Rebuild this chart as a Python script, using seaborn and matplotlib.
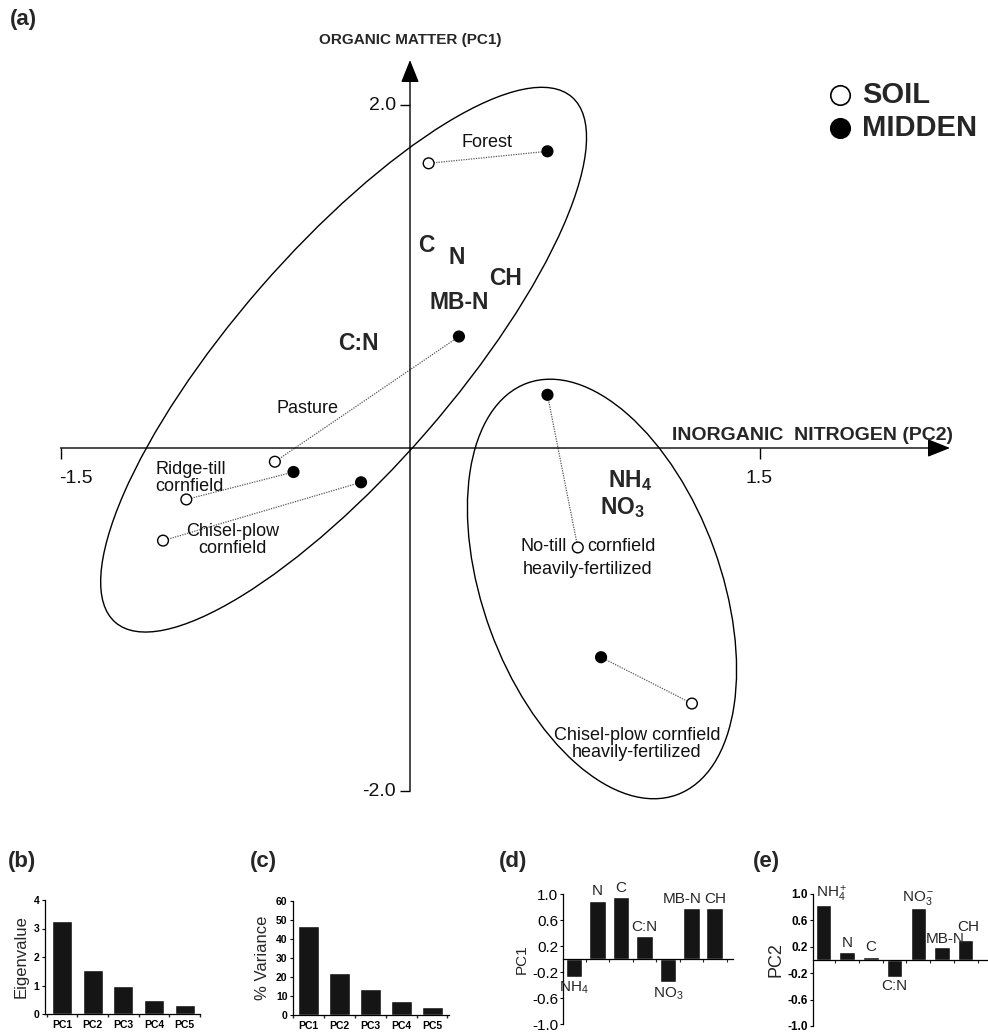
import matplotlib
matplotlib.use("Agg")
import numpy as np
import pandas as pd
import seaborn as sns
import matplotlib.pyplot as plt
from matplotlib.patches import Ellipse
from matplotlib.transforms import Affine2D

sns.set_theme(style="white")
plt.rcParams["font.family"] = ["Liberation Sans", "DejaVu Sans"]
plt.rcParams["mathtext.fontset"] = "custom"
plt.rcParams["mathtext.rm"] = "Liberation Sans"
plt.rcParams["mathtext.bf"] = "Liberation Sans:bold"
plt.rcParams["mathtext.it"] = "Liberation Sans:italic"

# ---------------- data ----------------
sites = ["Forest", "Pasture", "Ridge-till cornfield", "Chisel-plow cornfield",
         "No-till cornfield heavily-fertilized", "Chisel-plow cornfield heavily-fertilized"]
soil_pc2 = [0.08, -0.58, -0.96, -1.06, 0.72, 1.21]
soil_pc1 = [1.66, -0.08, -0.30, -0.54, -0.58, -1.49]
midden_pc2 = [0.59, 0.21, -0.50, -0.21, 0.59, 0.82]
midden_pc1 = [1.73, 0.65, -0.14, -0.20, 0.31, -1.22]

variables = ["C", "N", "CH", "MB-N", "C:N", r"NH$_\mathbf{4}$", r"NO$_\mathbf{3}$"]
var_pc2 = [0.07, 0.20, 0.41, 0.21, -0.22, 0.944, 0.91]
var_pc1 = [1.18, 1.11, 0.99, 0.85, 0.61, -0.19, -0.345]

components = ["PC1", "PC2", "PC3", "PC4", "PC5"]
eigenvalues = [3.26, 1.54, 0.98, 0.50, 0.30]
pct_variance = [46.8, 21.9, 13.9, 7.2, 4.0]

loading_vars = ["NH4", "N", "C", "C:N", "NO3", "MB-N", "CH"]
pc1_loadings = [-0.27, 0.90, 0.95, 0.36, -0.36, 0.79, 0.79]
pc2_loadings = [0.84, 0.12, 0.04, -0.25, 0.79, 0.19, 0.31]

# ---------------- figure ----------------
W, H = 988, 1032
fig = plt.figure(figsize=(W / 100, H / 100), dpi=100)
fig.patch.set_facecolor("white")


def box(l, t, r, b):
    return [l / W, 1 - b / H, (r - l) / W, (b - t) / H]


# ---------------- panel (a) ----------------
X0, Y0, SX, SY = 410, 448, 233.0, 171.5  # origin pixel & px per unit
ax = fig.add_axes(box(40, 50, 960, 840))
ax.set_xlim((40 - X0) / SX, (960 - X0) / SX)
ax.set_ylim((Y0 - 840) / SY, (Y0 - 50) / SY)
ax.axis("off")

# axes with arrows
arrow = dict(arrowstyle="-|>,head_length=0.7,head_width=0.28", color="black",
             lw=1.0, shrinkA=0, shrinkB=0, mutation_scale=20)
ax.annotate("", xy=((950 - X0) / SX, 0), xytext=(-1.5, 0), arrowprops=arrow)
ax.annotate("", xy=(0, (Y0 - 60) / SY), xytext=(0, -2.0), arrowprops=arrow)
ax.plot([-1.5, 1.5], [0, 0], ls="none", marker=3, ms=8, mew=1, color="black")
ax.plot([0, 0], [-2.0, 2.0], ls="none", marker=0, ms=7, mew=1, color="black")
tick_font = dict(fontsize=14, color="#111")
ax.annotate("-1.5", xy=(-1.5, 0), xytext=(11, -22), textcoords="offset points",
            ha="center", va="center", **tick_font)
ax.annotate("1.5", xy=(1.5, 0), xytext=(0, -22), textcoords="offset points",
            ha="center", va="center", **tick_font)
ax.annotate("2.0", xy=(0, 2.0), xytext=(-10, 0), textcoords="offset points",
            ha="right", va="center", **tick_font)
ax.annotate("-2.0", xy=(0, -2.0), xytext=(-10, 0), textcoords="offset points",
            ha="right", va="center", **tick_font)

fig.text(X0 / W, 1 - 40 / H, "ORGANIC MATTER (PC1)", ha="center", va="center",
         fontsize=11, fontweight="bold")
fig.text(953 / W, 1 - 435 / H, "INORGANIC  NITROGEN (PC2)", ha="right", va="center",
         fontsize=14, fontweight="bold")
fig.text(10 / W, 1 - 20 / H, "(a)", ha="left", va="center", fontsize=16, fontweight="bold")

# ellipses (drawn in isotropic units, mapped to data)
r = SY / SX
iso = Affine2D().scale(1, 1 / r) + ax.transData
ax.add_patch(Ellipse((-0.285, 0.515 * r), 2 * 348 / SX, 2 * 110 / SX, angle=49,
                     transform=iso, fill=False, ec="black", lw=1.0))
ax.add_patch(Ellipse((0.824, -0.822 * r), 2 * 219 / SX, 2 * 119 / SX, angle=110,
                     transform=iso, fill=False, ec="black", lw=1.0))

df_pts = pd.DataFrame({
    "site": sites * 2,
    "sample": ["SOIL"] * len(sites) + ["MIDDEN"] * len(sites),
    "pc2": soil_pc2 + midden_pc2,
    "pc1": soil_pc1 + midden_pc1,
})
sns.lineplot(data=df_pts, x="pc2", y="pc1", units="site", estimator=None, sort=False,
             color="#555", lw=0.9, linestyle=(0, (1, 1)), ax=ax, legend=False)
sns.scatterplot(data=df_pts, x="pc2", y="pc1", hue="sample",
                palette={"SOIL": "white", "MIDDEN": "black"}, edgecolor="black",
                linewidth=1.0, s=60, legend=False, ax=ax, zorder=3)

for name, px, py in zip(variables, var_pc2, var_pc1):
    ax.text(px, py, name, ha="center", va="center", fontsize=16.5, fontweight="bold")

site_font = dict(fontsize=13, color="#111")
ax.text(0.33, 1.78, "Forest", ha="center", va="center", **site_font)
ax.text(-0.44, 0.23, "Pasture", ha="center", va="center", **site_font)
ax.text(-1.094, -0.175, "Ridge-till\ncornfield", ha="left", va="center",
        linespacing=1.0, **site_font)
ax.text(-0.76, -0.536, "Chisel-plow\ncornfield", ha="center", va="center",
        linespacing=1.0, **site_font)
ax.text(0.674, -0.577, "No-till", ha="right", va="center", **site_font)
ax.text(0.76, -0.577, "cornfield", ha="left", va="center", **site_font)
ax.text(0.764, -0.706, "heavily-fertilized", ha="center", va="center", **site_font)
ax.text(0.974, -1.726, "Chisel-plow cornfield\nheavily-fertilized", ha="center",
        va="center", linespacing=1.0, **site_font)

# legend
fig.add_artist(plt.Line2D([840 / W], [1 - 95 / H], marker="o", ms=14, mfc="white",
                          mec="black", mew=1.2, ls="none", transform=fig.transFigure))
fig.add_artist(plt.Line2D([840 / W], [1 - 128 / H], marker="o", ms=14, mfc="black",
                          mec="black", mew=1.2, ls="none", transform=fig.transFigure))
fig.text(862 / W, 1 - 95 / H, "SOIL", ha="left", va="center", fontsize=21, fontweight="bold")
fig.text(862 / W, 1 - 128 / H, "MIDDEN", ha="left", va="center", fontsize=21,
         fontweight="bold")

# ---------------- panels (b) & (c) ----------------
BAR = "#151515"


def style_small(a, ylabel, yticks, ylim, xlim):
    a.set_xlim(*xlim)
    a.set_ylim(*ylim)
    a.set_yticks(yticks)
    a.set_xlabel("")
    a.set_ylabel(ylabel, fontsize=12, labelpad=4)
    for s in ["top", "right"]:
        a.spines[s].set_visible(False)
    for s in ["left", "bottom"]:
        a.spines[s].set_color("black")
        a.spines[s].set_linewidth(0.9)
    a.tick_params(axis="both", labelsize=7.5, length=2, width=0.8, pad=2,
                  colors="black", left=True, bottom=False)
    for lab in a.get_xticklabels() + a.get_yticklabels():
        lab.set_fontweight("bold")
    a.set_xticks(np.arange(-0.5, 5, 1), minor=True)
    a.tick_params(axis="x", which="minor", length=2, bottom=True)


axb = fig.add_axes(box(45, 900, 200, 1014))
sns.barplot(x=components, y=eigenvalues, color=BAR, saturation=1, width=0.65, ax=axb)
style_small(axb, "Eigenvalue", [0, 1, 2, 3, 4], (0, 4), (-0.55, 4.45))
fig.text(8 / W, 1 - 862 / H, "(b)", ha="left", va="center", fontsize=16, fontweight="bold")

axc = fig.add_axes(box(293, 901, 449, 1015))
sns.barplot(x=components, y=pct_variance, color=BAR, saturation=1, width=0.68, ax=axc)
style_small(axc, "% Variance", [0, 10, 20, 30, 40, 50, 60], (0, 60), (-0.48, 4.55))
fig.text(250 / W, 1 - 862 / H, "(c)", ha="left", va="center", fontsize=16, fontweight="bold")

# ---------------- panels (d) & (e) ----------------
yt = [-1.0, -0.6, -0.2, 0.2, 0.6, 1.0]


def style_load(a, ylabel, tick_size, tick_bold, ylabel_size, xlim):
    a.set_xlim(*xlim)
    a.set_ylim(-1.0, 1.0)
    a.set_yticks(yt)
    a.set_yticklabels([f"{v:.1f}" for v in yt])
    a.set_xticks([])
    a.set_xticks(np.arange(0.5, 7, 1), minor=True)
    a.set_xlabel("")
    a.set_ylabel(ylabel, fontsize=ylabel_size, labelpad=2)
    for s in ["top", "right"]:
        a.spines[s].set_visible(False)
    a.spines["bottom"].set_position(("data", 0))
    for s in ["left", "bottom"]:
        a.spines[s].set_color("black")
        a.spines[s].set_linewidth(0.9)
    a.tick_params(axis="y", labelsize=tick_size, length=2, width=0.8, pad=1.5,
                  colors="black", left=True)
    a.tick_params(axis="x", which="minor", length=2, width=0.8, bottom=True)
    if tick_bold:
        for lab in a.get_yticklabels():
            lab.set_fontweight("bold")


def bar_label(a, x, y, txt, dx=0, dy=1.5, ha="center", size=11):
    va = "bottom" if dy >= 0 else "top"
    a.annotate(txt, xy=(x, y), xytext=(dx, dy), textcoords="offset points",
               ha=ha, va=va, fontsize=size, annotation_clip=False)


axd = fig.add_axes(box(563, 894, 733, 1024))
sns.barplot(x=loading_vars, y=pc1_loadings, color=BAR, saturation=1, width=0.72, ax=axd)
style_load(axd, "PC1", 11, False, 11, (-0.47, 6.77))
bar_label(axd, 0, pc1_loadings[0], r"NH$_4$", dy=-2)
bar_label(axd, 1, pc1_loadings[1], "N")
bar_label(axd, 2, pc1_loadings[2], "C")
bar_label(axd, 3, pc1_loadings[3], "C:N")
bar_label(axd, 4, pc1_loadings[4], r"NO$_3$", dy=-2)
bar_label(axd, 5.42, pc1_loadings[5], "MB-N", ha="right")
bar_label(axd, 6, pc1_loadings[6], "CH")
fig.text(499 / W, 1 - 862 / H, "(d)", ha="left", va="center", fontsize=16, fontweight="bold")

axe = fig.add_axes(box(813, 894, 988, 1026))
sns.barplot(x=loading_vars, y=pc2_loadings, color=BAR, saturation=1, width=0.65, ax=axe)
style_load(axe, "PC2", 8.5, True, 13, (-0.44, 6.94))
bar_label(axe, -0.33, pc2_loadings[0], r"NH$_4^+$", ha="left", dy=0.5)
bar_label(axe, 1, pc2_loadings[1], "N")
bar_label(axe, 2, pc2_loadings[2], "C", dy=2.5)
bar_label(axe, 3, pc2_loadings[3], "C:N", dy=-2)
bar_label(axe, 4, pc2_loadings[4], r"NO$_3^-$", dy=0.5)
bar_label(axe, 5, pc2_loadings[5], "MB-N", dx=2.5, dy=1)
bar_label(axe, 6, pc2_loadings[6], "CH", dx=2, dy=4)
fig.text(753 / W, 1 - 862 / H, "(e)", ha="left", va="center", fontsize=16, fontweight="bold")

fig.savefig("out.png", dpi=100, facecolor="white")
